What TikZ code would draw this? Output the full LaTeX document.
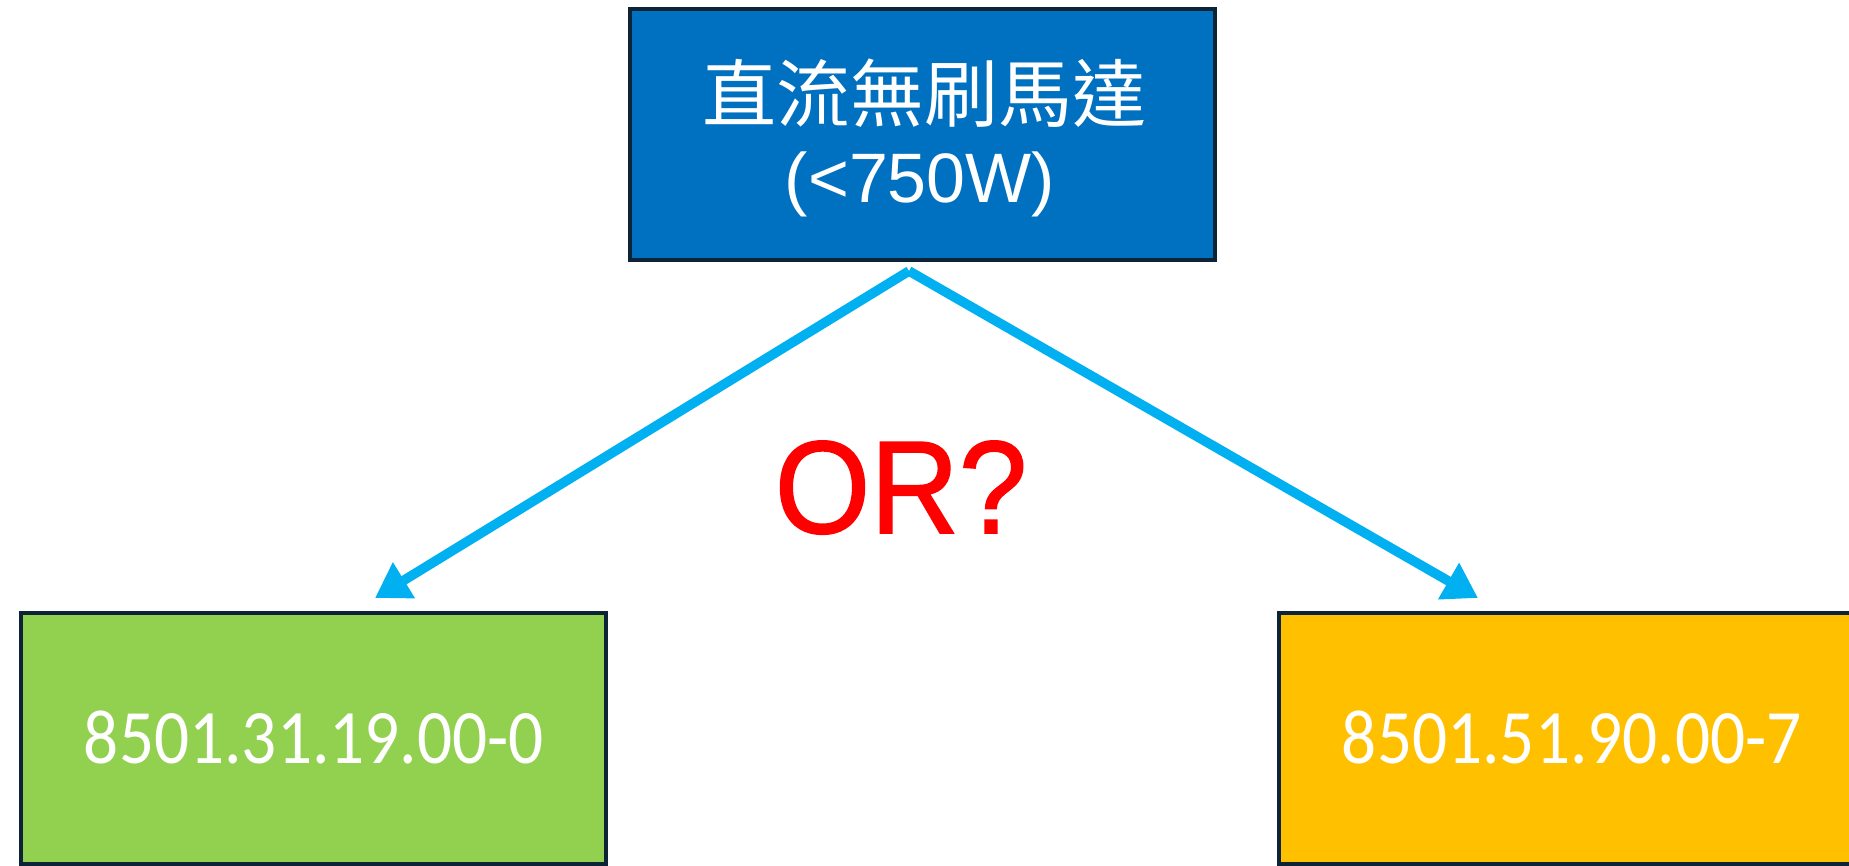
\documentclass[tikz,border=0pt]{standalone}
\usepackage{fontspec}
\setmainfont{Liberation Sans}
\newfontfamily\cjk{Noto Sans CJK TC}
\newfontfamily\numfont[FakeStretch=0.9]{Carlito}
\newfontfamily\orfont[FakeStretch=0.93,FakeBold=1.2]{Liberation Sans}
\usetikzlibrary{arrows.meta}
\definecolor{topblue}{HTML}{0070C0}
\definecolor{boxgreen}{HTML}{92D050}
\definecolor{boxyellow}{HTML}{FFC000}
\definecolor{edgecol}{HTML}{0D2336}
\definecolor{arrcol}{HTML}{00B0F0}
\definecolor{orred}{HTML}{FF0000}
\tikzset{
  box/.style={draw=edgecol, line width=2pt, minimum width=292.5pt, minimum height=125.5pt, inner sep=0pt},
  arr/.style={draw=arrcol, line width=4.8pt, -{Triangle[length=17pt,width=20pt]}},
  wtext/.style={text=white, inner sep=0pt}
}
\begin{document}
\begin{tikzpicture}[x=0.5pt,y=-0.5pt]
\useasboundingbox (0,0) rectangle (1849,866);
\clip (0,0) rectangle (1849,866);
\node[box, fill=topblue] (top) at (922.5,134.5) {};
\node[box, fill=boxgreen] (left) at (313,738) {};
\node[box, fill=boxyellow] (right) at (1571,738) {};
\node[wtext, font=\cjk\fontsize{37pt}{40pt}\selectfont] (toptxt) at (924,93) {直流無刷馬達};
\node[wtext, anchor=base, font=\fontsize{35pt}{38pt}\selectfont] (topwatt) at (920,203) {(<750W)};
\node[wtext, anchor=base, font=\numfont\fontsize{38.5pt}{42pt}\selectfont] (lefttxt) at (314,763) {8501.31.19.00-0};
\node[wtext, anchor=base, font=\numfont\fontsize{38.5pt}{42pt}\selectfont] (righttxt) at (1572,763) {8501.51.90.00-7};
\node[anchor=base, inner sep=0pt, text=orred, font=\orfont\fontsize{66pt}{70pt}\selectfont] (or) at (901,533) {OR?};
\coordinate (apex) at (909,271);
\coordinate (ltip) at (375,598);
\coordinate (rtip) at (1478,598);
\draw[arr] (apex) -- (ltip);
\draw[arr] (apex) -- (rtip);
\end{tikzpicture}
\end{document}
